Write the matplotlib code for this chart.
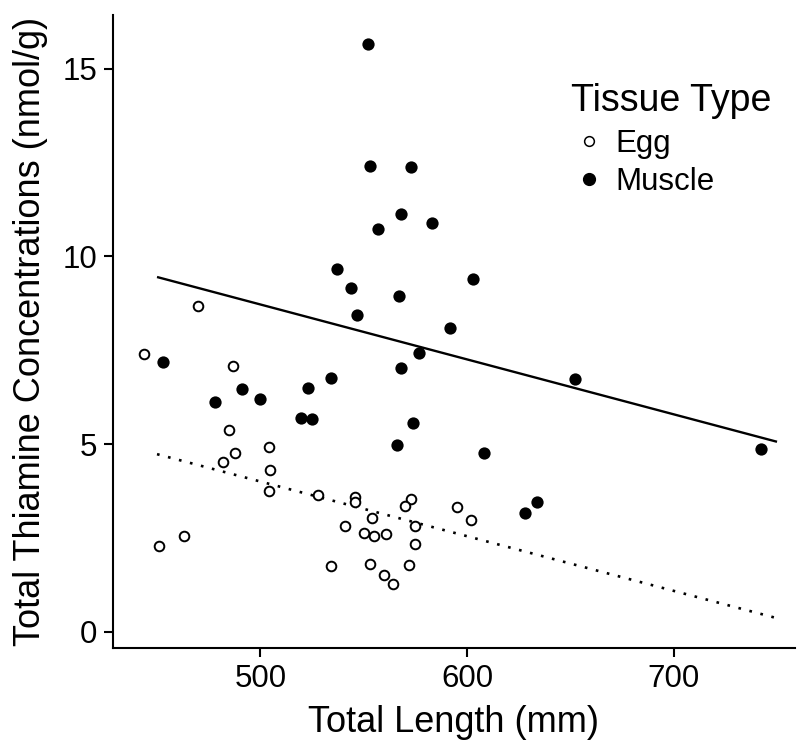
import matplotlib
matplotlib.use("Agg")
import matplotlib.pyplot as plt
from matplotlib.lines import Line2D

plt.rcParams['font.family'] = ['Liberation Sans', 'DejaVu Sans']

# ---- data ----
egg_length = [443.9, 469.7, 486.8, 484.9, 487.8, 482.0, 504.1, 504.8, 504.1, 527.9,
              546.0, 546.0, 572.9, 570.0, 554.2, 575.0, 541.0, 550.0, 555.0, 561.0,
              575.0, 450.8, 462.9, 534.1, 553.1, 572.1, 560.0, 564.0, 595.2, 602.1]
egg_thiamine = [7.39, 8.68, 7.09, 5.37, 4.77, 4.53, 4.93, 4.30, 3.75, 3.64,
                3.58, 3.46, 3.53, 3.36, 3.02, 2.82, 2.81, 2.62, 2.54, 2.60,
                2.34, 2.29, 2.55, 1.75, 1.80, 1.78, 1.50, 1.28, 3.32, 2.97]

muscle_length = [552.0, 553.1, 572.9, 567.9, 557.1, 583.1, 537.0, 544.0, 567.1, 546.9,
                 603.0, 591.9, 452.8, 477.9, 491.0, 500.0, 519.8, 525.2, 522.9, 534.1,
                 568.1, 576.9, 574.0, 566.0, 652.1, 608.2, 742.2, 628.1, 634.0]
muscle_thiamine = [15.67, 12.41, 12.39, 11.13, 10.74, 10.90, 9.65, 9.16, 8.94, 8.43,
                   9.40, 8.08, 7.18, 6.12, 6.46, 6.20, 5.69, 5.67, 6.49, 6.76,
                   7.02, 7.42, 5.56, 4.98, 6.73, 4.75, 4.88, 3.17, 3.46]

fit_length = [450, 750]
muscle_fit = [9.45, 5.06]
egg_fit = [4.73, 0.36]

x_ticks = [500, 600, 700]
y_ticks = [0, 5, 10, 15]

# ---- figure ----
W, H = 800, 746
fig = plt.figure(figsize=(W / 100, H / 100), dpi=100)
left, right, top, bottom = 113, 795, 15, 647.7
ax = fig.add_axes([left / W, (H - bottom) / H, (right - left) / W, (bottom - top) / H])

ax.scatter(egg_length, egg_thiamine, s=48, facecolors='white', edgecolors='black',
           linewidths=1.4, zorder=3)
ax.scatter(muscle_length, muscle_thiamine, s=78, color='black', linewidths=0, zorder=3)

ax.plot(fit_length, muscle_fit, color='black', lw=1.7, solid_capstyle='butt', zorder=2)
ax.plot(fit_length, egg_fit, color='black', lw=1.9, linestyle=(0, (1, 3.3)), zorder=2)

ax.set_xlim(428.7, 758.7)
ax.set_ylim(-0.426, 16.43)
ax.set_xticks(x_ticks)
ax.set_yticks(y_ticks)

for s in ['top', 'right']:
    ax.spines[s].set_visible(False)
for s in ['left', 'bottom']:
    ax.spines[s].set_linewidth(1.5)
ax.tick_params(axis='both', length=6.5, width=1.5, labelsize=22.5, colors='black', pad=5)

ax.set_xlabel('Total Length (mm)', fontsize=26, labelpad=8)
ax.set_ylabel('Total Thiamine Concentrations (nmol/g)', fontsize=26, labelpad=10)

handles = [
    Line2D([], [], marker='o', linestyle='none', markerfacecolor='white',
           markeredgecolor='black', markersize=7, markeredgewidth=1.1),
    Line2D([], [], marker='o', linestyle='none', markerfacecolor='black',
           markeredgecolor='black', markersize=8.5),
]
leg = ax.legend(handles, ['Egg', 'Muscle'], title='Tissue Type', frameon=False,
                fontsize=22.5, title_fontsize=27, loc='upper left',
                bbox_to_anchor=(571 / W, 1 - 83 / H), bbox_transform=fig.transFigure,
                handlelength=1.12, handletextpad=0.3, labelspacing=0.265,
                borderpad=0, borderaxespad=0, alignment='left')
leg._legend_box.sep = 0.265 * 22.5 + 1.2

fig.savefig('out.png', dpi=100)
